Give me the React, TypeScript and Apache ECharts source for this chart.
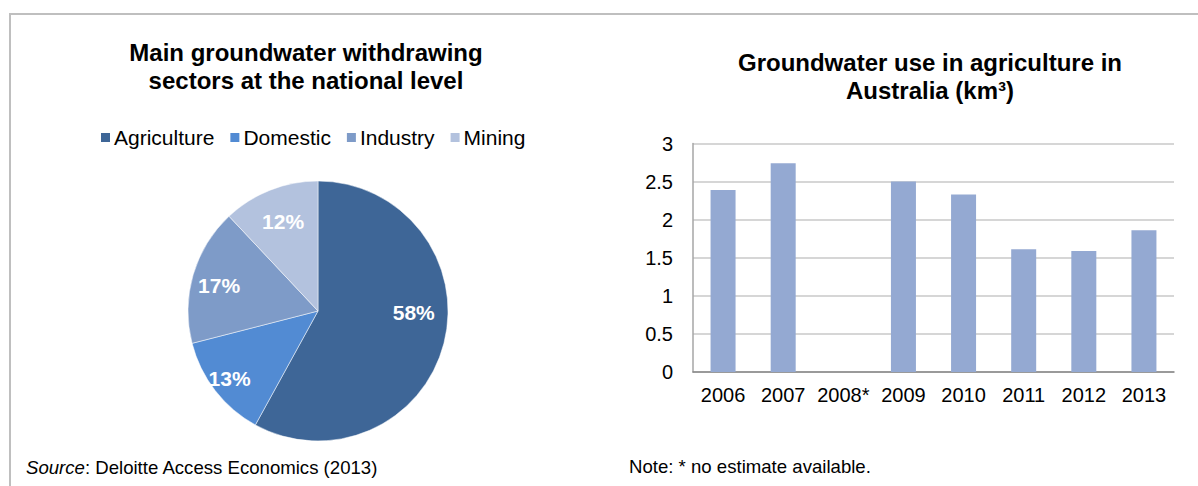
import React, { useEffect, useRef } from "react";
import * as echarts from "echarts";

const FONT = "'Liberation Sans', Arial, sans-serif";

const sectorNames = ["Agriculture", "Domestic", "Industry", "Mining"];
const sectorShares = [58, 13, 17, 12];
const sectorColors = ["#3e6697", "#528bd3", "#7e9bc8", "#b3c2de"];
const sectorLabelOffsets = [[-4, -24], [-7, 4], [0, 3], [3, 6]];

const years = ["2006", "2007", "2008*", "2009", "2010", "2011", "2012", "2013"];
const agriUse: (number | string)[] = [2.39, 2.74, "-", 2.5, 2.33, 1.61, 1.59, 1.86];
const yTicks = { min: 0, max: 3, interval: 0.5 };

export default function App() {
  const ref = useRef<HTMLDivElement>(null);
  useEffect(() => {
    if (!ref.current) return;
    const chart = echarts.init(ref.current, undefined, { renderer: "svg" });
    const pieData = sectorNames.map((n, i) => ({
      name: n,
      value: sectorShares[i],
      itemStyle: { color: sectorColors[i] },
    }));
    const labelData = sectorNames.map((n, i) => ({
      name: n,
      value: sectorShares[i],
      label: { offset: sectorLabelOffsets[i] },
    }));
    chart.setOption({
      animation: false,
      backgroundColor: "#ffffff",
      textStyle: { fontFamily: FONT },
      title: [
        {
          text: "Main groundwater withdrawing\nsectors at the national level",
          left: 306,
          top: 38,
          padding: 0,
          textAlign: "center",
          textStyle: { fontFamily: FONT, fontSize: 24, fontWeight: "bold", color: "#000", lineHeight: 28 },
        },
        {
          text: "Groundwater use in agriculture in\nAustralia (km³)",
          left: 930,
          top: 48,
          padding: 0,
          textAlign: "center",
          textStyle: { fontFamily: FONT, fontSize: 24, fontWeight: "bold", color: "#000", lineHeight: 28 },
        },
      ],
      legend: {
        data: sectorNames,
        left: 99,
        top: 127,
        padding: 0,
        itemWidth: 11,
        itemHeight: 11,
        itemGap: 14,
        icon: "rect",
        textStyle: { fontFamily: FONT, fontSize: 21, color: "#000", padding: [0, 0, 0, -2] },
      },
      grid: { left: 693, right: 24, top: 143.5, bottom: 114 },
      xAxis: {
        type: "category",
        data: years,
        axisLine: { lineStyle: { color: "#868686", width: 1.5 } },
        axisTick: { show: false },
        axisLabel: { fontFamily: FONT, fontSize: 20, color: "#000", margin: 13, interval: 0, hideOverlap: false },
      },
      yAxis: {
        type: "value",
        min: yTicks.min,
        max: yTicks.max,
        interval: yTicks.interval,
        axisLine: { show: true, lineStyle: { color: "#a6a6a6", width: 1.5 } },
        axisTick: { show: false },
        splitLine: { lineStyle: { color: "#c8c8c8", width: 1.5 } },
        axisLabel: { fontFamily: FONT, fontSize: 20, color: "#000", margin: 20 },
      },
      series: [
        {
          type: "pie",
          name: "sectors",
          center: [318, 311],
          radius: 130,
          startAngle: 90,
          clockwise: true,
          label: { show: false },
          labelLine: { show: false },
          itemStyle: { borderColor: "#ffffff", borderWidth: 0.5 },
          data: pieData,
        },
        {
          type: "pie",
          name: "labels",
          center: [318, 311],
          radius: [70, 130],
          startAngle: 90,
          clockwise: true,
          silent: true,
          legendHoverLink: false,
          itemStyle: { color: "rgba(0,0,0,0)" },
          label: {
            show: true,
            position: "inside",
            formatter: "{c}%",
            fontFamily: FONT,
            fontSize: 21,
            fontWeight: "bold",
            color: "#ffffff",
          },
          labelLine: { show: false },
          data: labelData,
        },
        {
          type: "bar",
          name: "Groundwater use",
          data: agriUse,
          barWidth: 25,
          itemStyle: { color: "#94a9d2" },
        },
      ],
      graphic: [
        {
          type: "polyline",
          shape: { points: [[10, 486], [10, 14], [1198, 14]] },
          style: { stroke: "#bfbfbf", lineWidth: 2, fill: null },
          silent: true,
        },
        {
          type: "text",
          x: 26,
          y: 467,
          style: {
            text: "{i|Source}: Deloitte Access Economics (2013)",
            fontFamily: FONT,
            fontSize: 18.6,
            fill: "#000",
            verticalAlign: "middle",
            rich: { i: { fontStyle: "italic", fontFamily: FONT, fontSize: 18.6, fill: "#000" } },
          },
        },
        {
          type: "text",
          x: 629,
          y: 466,
          style: {
            text: "Note: * no estimate available.",
            fontFamily: FONT,
            fontSize: 18.6,
            fill: "#000",
            verticalAlign: "middle",
          },
        },
      ],
    });
    return () => chart.dispose();
  }, []);
  return (
    <div
      ref={ref}
      style={{ position: "absolute", left: 0, top: 0, width: 1198, height: 486 }}
    />
  );
}
